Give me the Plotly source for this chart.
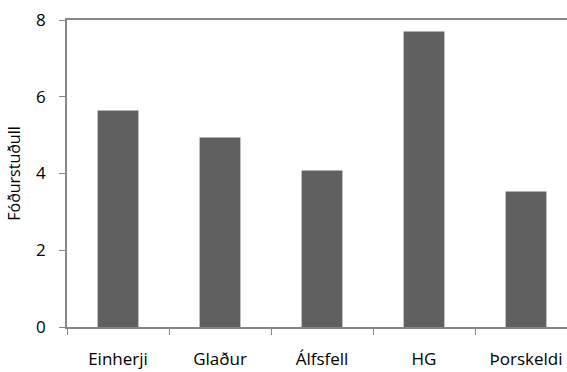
import plotly.graph_objects as go

categories = ["Einherji", "Glaður", "Álfsfell", "HG", "Þorskeldi"]
values = [5.64, 4.94, 4.08, 7.70, 3.53]
y_ticks = [0, 2, 4, 6, 8]
y_title = "Fóðurstuðull"

font_family = "Open Sans, Liberation Sans, sans-serif"
axis_color = "#868686"

fig = go.Figure(go.Bar(
    x=categories, y=values,
    marker=dict(color="#606060", line=dict(width=0)),
    width=0.4,
))

fig.update_layout(
    width=567, height=372,
    margin=dict(l=67, r=0, t=20, b=45),
    paper_bgcolor="white", plot_bgcolor="white",
    showlegend=False,
    font=dict(family=font_family, color="black", size=17),
)
fig.update_xaxes(
    range=[-0.5, 4.402], automargin=False,
    showline=True, linecolor=axis_color, linewidth=1.5, mirror=True,
    ticks="outside", tickson="boundaries", ticklen=6, tickcolor=axis_color,
    tickfont=dict(size=17), ticklabelstandoff=16,
    showgrid=False,
)
fig.update_yaxes(
    range=[0, 8], tickvals=y_ticks, automargin=False,
    showline=True, linecolor=axis_color, linewidth=1.5, mirror=True,
    ticks="outside", ticklen=6, tickcolor=axis_color,
    tickfont=dict(size=17), ticklabelstandoff=10,
    showgrid=False, zeroline=False,
    title=dict(text=y_title, font=dict(size=16), standoff=12),
)

fig.write_html(
    "out.html",
    config={"displayModeBar": False},
    post_script="document.body.style.margin='0';document.body.style.overflow='hidden';",
)
